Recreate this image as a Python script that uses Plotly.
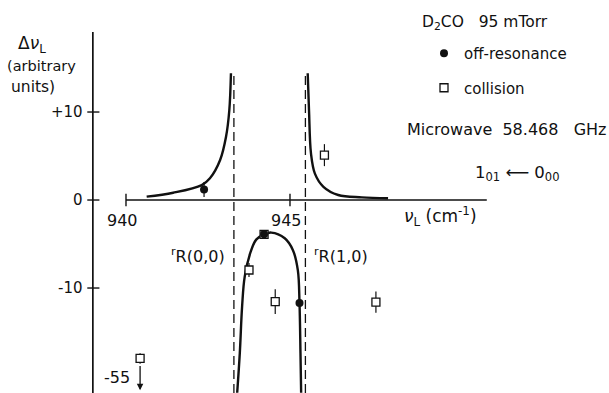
import plotly.graph_objects as go

# ---- data -----------------------------------------------------------------
# resonance positions (dashed lines), cm^-1
resonances = [943.29, 945.47]
resonance_labels = ["<sup>r</sup>R(0,0)", "<sup>r</sup>R(1,0)"]

# calculated dispersion curves (x in cm^-1, y in arbitrary units)
left_x = [940.63, 941.44, 942.31, 942.56, 942.87, 943.05, 943.15, 943.20]
left_y = [0.38, 0.83, 1.70, 2.47, 4.55, 7.19, 10.2, 14.4]

right_x = [945.54, 945.58, 945.64, 945.76, 946.02, 946.47, 947.19, 947.99]
right_y = [14.4, 10.2, 5.3, 3.0, 1.5, 0.57, 0.30, 0.20]

lower_x = [943.39, 943.47, 943.54, 943.62, 943.80, 943.97, 944.21, 944.43,
           944.84, 945.09, 945.24, 945.29, 945.32, 945.34]
lower_y = [-21.9, -17.4, -12.1, -8.7, -5.9, -4.5, -3.9, -3.7,
           -4.35, -5.7, -8.0, -11.7, -17.4, -21.9]

# measured points
offres_x = [942.38, 944.21, 945.29]
offres_y = [1.2, -3.9, -11.7]
offres_err = [0.85, 0.0, 0.0]

coll_x = [940.43, 943.75, 944.21, 944.55, 946.05, 947.62]
coll_y = [-55.0, -7.95, -3.9, -11.55, 5.1, -11.6]
coll_err = [0.6, 0.8, 0.0, 1.4, 1.25, 1.2]

# axis ticks
xtick_vals = [940, 945]
ytick_vals = [10, 0, -10]
ytick_text = ["+10", "0", "-10"]

# ---- plotting ranges --------------------------------------------------------
X_RANGE = [936.159, 954.726]
Y_RANGE = [-21.93, 22.73]
Y_AXIS_X = 938.99          # where the vertical axis stands
X_AXIS_END = 951.0
Y_AXIS_TOP = 19.1
PARK_Y = -18.0             # display level for off-scale points
CURVE_TOP = 14.5

FONT = "DejaVu Sans"
INK = "#111111"

fig = go.Figure()

# curves
for xs, ys in [(left_x, left_y), (right_x, right_y), (lower_x, lower_y)]:
    fig.add_trace(go.Scatter(x=xs, y=ys, mode="lines", showlegend=False,
                             line=dict(color=INK, width=2.4, shape="spline"),
                             hoverinfo="skip"))

# off-scale points are parked at PARK_Y with an arrow
coll_plot_y = [v if v > Y_RANGE[0] else PARK_Y for v in coll_y]

fig.add_trace(go.Scatter(
    x=coll_x, y=coll_plot_y, mode="markers", name="collision",
    legendrank=2, legendgroup="b",
    marker=dict(symbol="square", size=8, color="white",
                line=dict(color=INK, width=1.3)),
    error_y=dict(type="data", array=coll_err, visible=True,
                 color=INK, thickness=1.2, width=0),
))
fig.add_trace(go.Scatter(
    x=offres_x, y=offres_y, mode="markers", name="off-resonance",
    legendrank=1, legendgroup="a",
    marker=dict(symbol="circle", size=8, color=INK),
    error_y=dict(type="data", array=offres_err, visible=True,
                 color=INK, thickness=1.2, width=0),
))

shapes = []
# axes
shapes.append(dict(type="line", xref="x", yref="y", x0=Y_AXIS_X, x1=Y_AXIS_X,
                   y0=Y_RANGE[0], y1=Y_AXIS_TOP, line=dict(color=INK, width=1.7)))
shapes.append(dict(type="line", xref="x", yref="y", x0=xtick_vals[0], x1=X_AXIS_END,
                   y0=0, y1=0, line=dict(color=INK, width=1.7)))
for xv in xtick_vals:
    shapes.append(dict(type="line", xref="x", yref="y", x0=xv, x1=xv,
                       y0=-0.7, y1=0.7, line=dict(color=INK, width=1.4)))
for yv in ytick_vals:
    shapes.append(dict(type="line", xref="x", yref="y", x0=Y_AXIS_X - 0.17,
                       x1=Y_AXIS_X + 0.2, y0=yv, y1=yv,
                       line=dict(color=INK, width=1.4)))
# resonance lines
for rx in resonances:
    shapes.append(dict(type="line", xref="x", yref="y", x0=rx, x1=rx,
                       y0=Y_RANGE[0], y1=CURVE_TOP,
                       line=dict(color=INK, width=1.3, dash="9px,5px")))

annotations = []
for yv, yt in zip(ytick_vals, ytick_text):
    annotations.append(dict(x=938.75, y=yv, xref="x", yref="y", text=yt,
                            showarrow=False, xanchor="right", yanchor="middle",
                            font=dict(size=15)))
for xv in xtick_vals:
    annotations.append(dict(x=xv - 0.1, y=-2.3, xref="x", yref="y", text=str(xv),
                            showarrow=False, xanchor="center", yanchor="middle",
                            font=dict(size=16)))

# resonance labels
annotations.append(dict(x=resonances[0] - 0.2, y=-6.3, xref="x", yref="y",
                        text=resonance_labels[0], showarrow=False,
                        xanchor="right", yanchor="middle", font=dict(size=16)))
annotations.append(dict(x=resonances[1] + 0.2, y=-6.3, xref="x", yref="y",
                        text=resonance_labels[1], showarrow=False,
                        xanchor="left", yanchor="middle", font=dict(size=16)))

# off-scale marker: value label and arrow
for cx, cy, py in zip(coll_x, coll_y, coll_plot_y):
    if cy != py:
        annotations.append(dict(x=cx, y=Y_RANGE[0] + 0.3, ax=cx, ay=py - 0.7,
                                xref="x", yref="y", axref="x", ayref="y",
                                text="", showarrow=True, arrowhead=2,
                                arrowsize=1, arrowwidth=1.3, arrowcolor=INK))
        annotations.append(dict(x=cx - 0.25, y=py - 2.2, xref="x", yref="y",
                                text=f"{cy:.0f}", showarrow=False,
                                xanchor="right", yanchor="middle",
                                font=dict(size=16)))

# axis titles
annotations.append(dict(x=440 / 609, y=1 - 216 / 393, xref="paper", yref="paper",
                        text="<i>ν</i><sub>L</sub> (cm<sup>-1</sup>)",
                        showarrow=False, xanchor="center", yanchor="middle",
                        font=dict(size=17)))
annotations.append(dict(x=16 / 609, y=1 - 44 / 393, xref="paper", yref="paper",
                        text="Δ<i>ν</i><sub>L</sub>", showarrow=False,
                        xanchor="left", yanchor="middle", font=dict(size=17)))
annotations.append(dict(x=5 / 609, y=1 - 66 / 393, xref="paper", yref="paper",
                        text="(arbitrary", showarrow=False,
                        xanchor="left", yanchor="middle", font=dict(size=14.5)))
annotations.append(dict(x=9 / 609, y=1 - 87 / 393, xref="paper", yref="paper",
                        text="units)", showarrow=False,
                        xanchor="left", yanchor="middle", font=dict(size=15.5)))

# experiment conditions
annotations.append(dict(x=420 / 609, y=1 - 23 / 393, xref="paper", yref="paper",
                        text="D<sub>2</sub>CO   95 mTorr", showarrow=False,
                        xanchor="left", yanchor="middle", font=dict(size=15.5)))
annotations.append(dict(x=405 / 609, y=1 - 130 / 393, xref="paper", yref="paper",
                        text="Microwave  58.468   GHz", showarrow=False,
                        xanchor="left", yanchor="middle", font=dict(size=16)))
annotations.append(dict(x=473 / 609, y=1 - 173 / 393, xref="paper", yref="paper",
                        text="1<sub>01</sub> ⟵ 0<sub>00</sub>", showarrow=False,
                        xanchor="left", yanchor="middle", font=dict(size=16.5)))

fig.update_layout(
    width=609, height=393, autosize=False,
    margin=dict(l=0, r=0, t=0, b=0),
    paper_bgcolor="white", plot_bgcolor="white",
    font=dict(family=FONT, color=INK, size=15),
    xaxis=dict(range=X_RANGE, visible=False, fixedrange=True),
    yaxis=dict(range=Y_RANGE, visible=False, fixedrange=True),
    shapes=shapes, annotations=annotations,
    showlegend=True,
    legend=dict(x=424 / 609, y=1 - 37 / 393, xanchor="left", yanchor="top",
                font=dict(size=15), itemwidth=30, tracegroupgap=12,
                bgcolor="rgba(0,0,0,0)", borderwidth=0),
)

fig.write_html("out.html")
